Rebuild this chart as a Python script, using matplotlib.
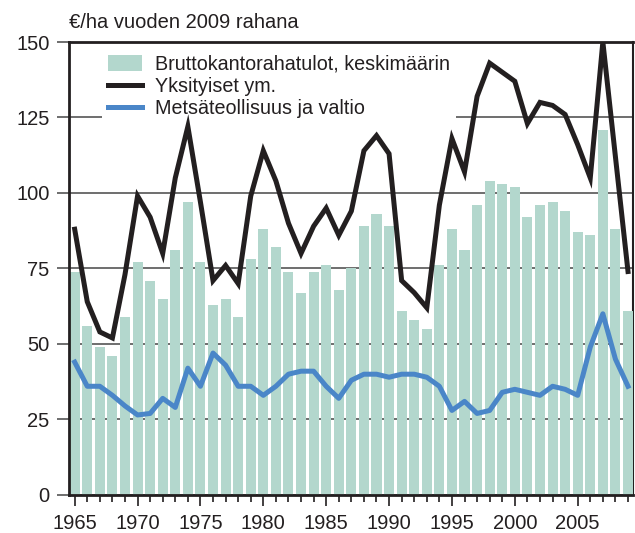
import matplotlib.pyplot as plt
import numpy as np

years = np.arange(1965, 2010)

# Bruttokantorahatulot, keskimäärin (bars)
gross = [74, 56, 49, 46, 59, 77, 71, 65, 81, 97,
         77, 63, 65, 59, 78, 88, 82, 74, 67, 74,
         76, 68, 75, 89, 93, 89, 61, 58, 55, 76,
         88, 81, 96, 104, 103, 102, 92, 96, 97, 94,
         87, 86, 121, 88, 61]

# Yksityiset ym.
private = [88, 64, 54, 52, 73, 99, 92, 80, 105, 122,
           97, 71, 76, 70, 99, 114, 104, 90, 80, 89,
           95, 86, 94, 114, 119, 113, 71, 67, 62, 96,
           118, 107, 132, 143, 140, 137, 123, 130, 129, 126,
           116, 105, 150, 112, 74]

# Metsäteollisuus ja valtio
industry = [44, 36, 36, 33, 29.5, 26.5, 27, 32, 29, 42,
            36, 47, 43, 36, 36, 33, 36, 40, 41, 41,
            36, 32, 38, 40, 40, 39, 40, 40, 39, 36,
            28, 31, 27, 28, 34, 35, 34, 33, 36, 35,
            33, 49, 60, 45, 36]

plt.rcParams['font.family'] = ['Liberation Sans Narrow', 'Liberation Sans', 'DejaVu Sans']

fig = plt.figure(figsize=(6.35, 5.33), dpi=100)
ax = fig.add_axes([0.1087, 0.0713, 0.8882, 0.8499])

dark = '#231f20'
h_bar = ax.bar(years, gross, width=0.8, color='#b3d7cd', zorder=2,
               label='Bruttokantorahatulot, keskimäärin')
h_priv, = ax.plot(years, private, color=dark, lw=3.6, zorder=3,
                  solid_joinstyle='miter', label='Yksityiset ym.')
h_ind, = ax.plot(years, industry, color='#4a86c8', lw=3.6, zorder=3,
                 solid_joinstyle='round', label='Metsäteollisuus ja valtio')

ax.set_xlim(1964.55, 2009.4)
ax.set_ylim(0, 150)
ax.set_yticks(np.arange(0, 151, 25))
ax.set_xticks(np.arange(1965, 2010, 5))
ax.set_xticks(years, minor=True)
ax.grid(axis='y', color='#555555', lw=1.2, zorder=0)
ax.set_axisbelow(True)

for s in ax.spines.values():
    s.set_linewidth(2)
    s.set_color(dark)
ax.spines['right'].set_linewidth(1.5)
ax.spines['right'].set_zorder(1)

ax.tick_params(axis='y', length=9, width=1.2, pad=5, labelsize=14.5,
               colors='#555555', labelcolor=dark)
ax.tick_params(axis='x', which='major', length=8, width=1.2, pad=6,
               labelsize=14.5, colors=dark)
ax.tick_params(axis='x', which='minor', length=5, width=1.2, colors=dark)

ax.text(0.0, 1.031, '€/ha vuoden 2009 rahana', transform=ax.transAxes,
        fontsize=14.5, color=dark, ha='left', va='baseline')

leg = ax.legend([h_bar, h_priv, h_ind],
                [h_bar.get_label(), h_priv.get_label(), h_ind.get_label()],
                loc='upper left', bbox_to_anchor=(0.058, 0.985), frameon=True,
                fontsize=14.2, handlelength=1.75, handleheight=0.85,
                handletextpad=0.65, labelspacing=0.16, borderpad=0.3,
                borderaxespad=0)
leg.get_frame().set_edgecolor('none')
leg.get_frame().set_facecolor('white')
leg.get_frame().set_alpha(1)
leg.set_zorder(1.5)
for t in leg.get_texts():
    t.set_color(dark)

fig.savefig('out.png', dpi=100)
